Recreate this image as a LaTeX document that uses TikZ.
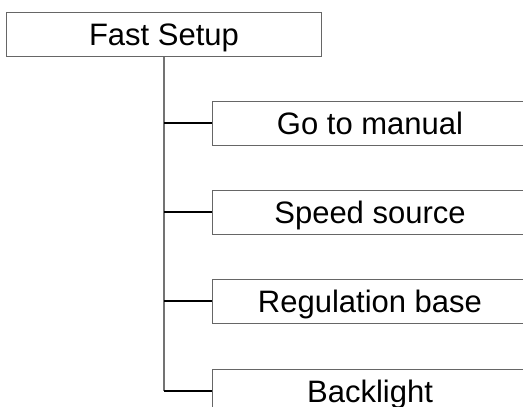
\documentclass[tikz,border=0pt]{standalone}
\usepackage{fontspec}
\setmainfont{Liberation Sans}
\usepackage{tikz}
\usetikzlibrary{positioning}

\begin{document}
\begin{tikzpicture}[
  x=1pt, y=-1pt,
  menubox/.style={draw=black!60, line width=1pt, minimum width=315pt, minimum height=44pt,
    inner sep=0pt, text height=22pt, text depth=0pt, font=\fontsize{31}{31}\selectfont},
  trunk/.style={draw=black!55, line width=1.2pt},
  branch/.style={draw=black, line width=1.4pt}
]
\useasboundingbox (0,0) rectangle (523,407);

% Root
\node[menubox] (fast) at (164, 34) {Fast Setup};

% Menu entries
\node[menubox] (manual) at (370, 123) {Go to manual};
\node[menubox] (speed) at (370, 212) {Speed source};
\node[menubox] (regul) at (370, 301) {Regulation base};
\node[menubox] (light) at (370, 391) {Backlight};

% Tree lines
\draw[trunk] (fast.south) -- (fast.south |- light.west);
\draw[branch] (fast.south |- manual.west) -- (manual.west);
\draw[branch] (fast.south |- speed.west) -- (speed.west);
\draw[branch] (fast.south |- regul.west) -- (regul.west);
\draw[branch] (fast.south |- light.west) -- (light.west);

\end{tikzpicture}
\end{document}
